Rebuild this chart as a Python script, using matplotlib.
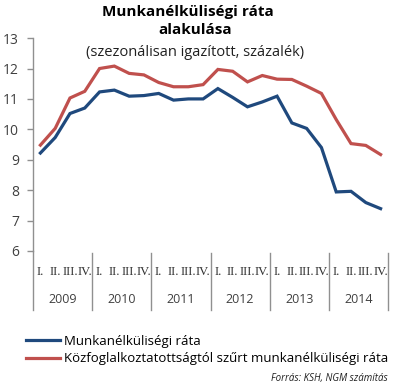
import matplotlib
matplotlib.use("Agg")
import matplotlib.pyplot as plt
from matplotlib.transforms import blended_transform_factory

years = ["2009", "2010", "2011", "2012", "2013", "2014"]
quarters = ["I.", "II.", "III.", "IV."]
unemployment = [9.22, 9.73, 10.52, 10.70, 11.23, 11.29, 11.09, 11.11,
                11.18, 10.96, 11.00, 11.00, 11.34, 11.05, 10.74, 10.90,
                11.09, 10.21, 10.03, 9.40, 7.94, 7.96, 7.59, 7.39]
filtered = [9.48, 10.03, 11.03, 11.25, 12.00, 12.08, 11.84, 11.79,
            11.54, 11.40, 11.40, 11.47, 11.97, 11.91, 11.56, 11.77,
            11.65, 11.64, 11.42, 11.18, 10.32, 9.53, 9.47, 9.17]
series_names = ["Munkanélküliségi ráta",
                "Közfoglalkoztatottságtól szűrt munkanélküliségi ráta"]

plt.rcParams['font.family'] = ['Open Sans', 'DejaVu Sans']

fig = plt.figure(figsize=(4.0, 3.89), dpi=100)
ax = fig.add_axes([0.0825, 0.355, 0.8875, 0.547])

x = list(range(len(unemployment)))
l1, = ax.plot(x, unemployment, color="#1f497d", lw=2.3, solid_joinstyle="miter")
l2, = ax.plot(x, filtered, color="#c0504d", lw=2.3, solid_joinstyle="miter")

ax.set_xlim(-0.5, len(x) - 0.5)
ax.set_ylim(6, 13)
ax.set_yticks(range(6, 14))
ax.tick_params(axis='y', direction='out', length=4, width=1, color="#909090",
               labelsize=10, labelcolor="#404040", pad=6)
ax.set_xticks([])
for s in ["top", "right", "bottom"]:
    ax.spines[s].set_visible(False)
ax.spines["left"].set_color("#909090")
ax.spines["left"].set_linewidth(1)

trans = blended_transform_factory(ax.transData, ax.transAxes)
sep_bottom = -0.277
for k in range(len(years) + 1):
    xs = k * 4 - 0.5
    ax.plot([xs, xs], [-0.01 if k else 0, sep_bottom], transform=trans,
            color="#909090", lw=1, clip_on=False)
for i in x:
    ax.text(i, -0.1, quarters[i % 4], transform=trans, ha="center", va="center",
            fontsize=9, family="Liberation Serif", color="#303030")
for k, yr in enumerate(years):
    ax.text(k * 4 + 1.5, -0.23, yr, transform=trans, ha="center", va="center",
            fontsize=9, color="#404040")

fig.text(0.47, 0.969, "Munkanélküliségi ráta", ha="center", va="center",
         fontsize=11, fontweight="bold", color="black")
fig.text(0.487, 0.923, "alakulása", ha="center", va="center",
         fontsize=11, fontweight="bold", color="black")
fig.text(0.4875, 0.866, "(szezonálisan igazított, százalék)", ha="center", va="center",
         fontsize=10.5, color="#202020")

fig.legend([l1, l2], series_names, loc="center left", bbox_to_anchor=(0.065, 0.1),
           frameon=False, fontsize=9.5, handlelength=2.6, handletextpad=0.3,
           labelspacing=0.35, borderaxespad=0, borderpad=0)

fig.text(0.97, 0.028, "Forrás: KSH, NGM számítás", ha="right", va="center",
         fontsize=7, style="italic", color="#202020")

fig.savefig("out.png", dpi=100)
